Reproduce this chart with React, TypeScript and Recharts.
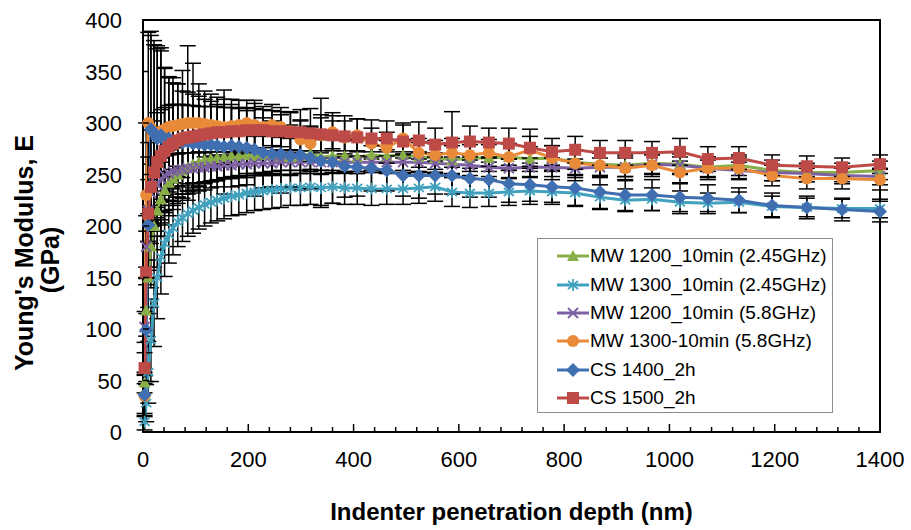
import React from 'react';
import {
  LineChart,
  Line,
  XAxis,
  YAxis,
  ErrorBar,
  Legend,
  ReferenceArea,
} from 'recharts';

// Indentation depth (nm), shared by all series
const depth = [3, 6, 10, 15, 21, 27, 34, 41, 49, 57, 66, 75, 85, 95, 106, 117, 129, 141, 154, 168,
  182, 197, 212, 228, 245, 262, 280, 299, 318, 338, 360, 383, 407, 434, 463, 494, 524, 555, 587, 621,
  657, 695, 735, 777, 821, 868, 916, 967, 1020, 1073, 1132, 1195, 1261, 1328, 1400];

// Young's modulus (GPa)
const mw1200_245 = [48, 118, 150, 180, 200, 215, 226, 235, 242, 246, 250, 254, 257, 260, 262, 264, 265, 266, 267, 268,
  268, 269, 268, 269, 269, 268, 267, 268, 270, 267, 268, 268, 267, 269, 268, 269, 267, 266, 264, 266,
  266, 267, 265, 266, 262, 260, 259, 261, 260, 257, 259, 254, 252, 252, 254];
const mw1300_245 = [10, 28, 58, 89, 125, 150, 170, 183, 192, 198, 204, 208, 212, 215, 218, 221, 223, 225, 227, 229,
  230, 232, 233, 234, 235, 236, 237, 237, 238, 237, 238, 237, 237, 236, 236, 236, 237, 238, 233, 232,
  232, 233, 234, 233, 232, 228, 225, 226, 223, 222, 223, 219, 218, 217, 217];
const mw1200_58 = [102, 180, 215, 232, 236, 240, 246, 249, 251, 253, 254, 255, 256, 256, 257, 257, 258, 258, 259, 259,
  260, 260, 261, 261, 261, 262, 262, 262, 262, 262, 262, 262, 262, 262, 262, 262, 262, 261, 260, 259,
  257, 256, 257, 257, 256, 257, 257, 260, 259, 256, 254, 252, 251, 249, 248];
const mw1300_58 = [35, 230, 300, 295, 291, 290, 292, 294, 296, 297, 298, 299, 300, 300, 300, 299, 298, 297, 296, 297,
  298, 300, 298, 296, 298, 296, 292, 284, 280, 288, 291, 286, 288, 280, 276, 285, 271, 269, 271, 269,
  271, 267, 274, 266, 261, 259, 256, 259, 252, 256, 256, 249, 246, 246, 245];
const cs1400 = [36, 99, 201, 294, 290, 285, 288, 283, 285, 282, 283, 281, 282, 280, 280, 279, 279, 278, 277, 278,
  277, 276, 274, 271, 270, 270, 268, 269, 266, 263, 262, 258, 257, 256, 254, 249, 249, 249, 249, 246,
  245, 241, 240, 238, 237, 233, 230, 230, 228, 227, 225, 220, 218, 216, 214];
const cs1500 = [62, 155, 212, 238, 252, 262, 268, 273, 277, 280, 283, 285, 286, 287, 288, 289, 290, 291, 291, 292,
  292, 293, 293, 293, 292, 292, 291, 291, 290, 289, 288, 287, 286, 285, 285, 282, 283, 279, 281, 282,
  281, 280, 276, 272, 274, 271, 271, 271, 272, 265, 266, 259, 258, 257, 260];

// standard deviations (GPa)
const mw1200_245Err = [10, 25, 35, 40, 40, 38, 36, 34, 32, 30, 28, 27, 26, 25, 24, 23, 22, 22, 21, 21,
  20, 20, 19, 19, 18, 18, 18, 17, 17, 17, 16, 16, 16, 15, 15, 15, 14, 14, 14, 13,
  13, 13, 12, 12, 12, 11, 11, 11, 10, 10, 10, 10, 9, 9, 9];
const mw1300_245Err = [8, 18, 30, 40, 42, 40, 36, 32, 28, 26, 24, 23, 22, 22, 21, 21, 20, 20, 20, 19,
  19, 19, 18, 18, 18, 18, 17, 17, 17, 17, 16, 16, 16, 16, 15, 15, 15, 14, 14, 14,
  13, 13, 13, 12, 12, 12, 11, 11, 11, 10, 10, 10, 9, 9, 9];
const mw1200_58Err = [15, 30, 30, 28, 25, 22, 20, 19, 18, 17, 16, 16, 15, 15, 15, 14, 14, 14, 13, 13,
  13, 13, 12, 12, 12, 12, 12, 11, 11, 11, 11, 11, 11, 10, 10, 10, 10, 10, 10, 10,
  9, 9, 9, 9, 9, 9, 9, 9, 8, 8, 8, 8, 8, 8, 8];
const mw1300_58Err = [20, 70, 88, 90, 85, 82, 78, 60, 48, 42, 40, 52, 75, 58, 38, 32, 30, 28, 36, 26,
  24, 22, 24, 20, 20, 19, 18, 18, 17, 17, 16, 16, 16, 15, 15, 15, 14, 14, 14, 13,
  13, 13, 13, 12, 12, 12, 12, 11, 11, 11, 11, 10, 10, 10, 10];
const cs1400Err = [20, 50, 80, 95, 90, 90, 85, 70, 60, 62, 55, 50, 48, 48, 46, 44, 42, 40, 46, 40,
  38, 36, 45, 34, 32, 38, 30, 34, 30, 45, 40, 30, 28, 22, 20, 20, 22, 18, 18, 18,
  17, 18, 16, 15, 18, 16, 15, 15, 14, 13, 12, 12, 11, 11, 10];
const cs1500Err = [15, 40, 55, 55, 50, 48, 45, 42, 40, 38, 35, 33, 31, 30, 28, 27, 26, 25, 24, 23,
  22, 22, 21, 20, 20, 19, 20, 22, 24, 35, 22, 20, 18, 18, 17, 16, 18, 16, 30, 15,
  14, 15, 18, 13, 13, 12, 12, 11, 13, 12, 11, 10, 10, 9, 9];

const xTicks = [0, 40, 80, 120, 160, 200, 240, 280, 320, 360, 400, 440, 480, 520, 560, 600, 640, 680,
  720, 760, 800, 840, 880, 920, 960, 1000, 1040, 1080, 1120, 1160, 1200, 1240, 1280, 1320, 1360, 1400];
const yTicks = [0, 50, 100, 150, 200, 250, 300, 350, 400];

const series = [
  { key: 'g', name: 'MW 1200_10min (2.45GHz)', color: '#88AE48', shape: 'triangle', vals: mw1200_245, err: mw1200_245Err },
  { key: 'c', name: 'MW 1300_10min (2.45GHz)', color: '#41A2BF', shape: 'star', vals: mw1300_245, err: mw1300_245Err },
  { key: 'p', name: 'MW 1200_10min (5.8GHz)', color: '#7D60A1', shape: 'x', vals: mw1200_58, err: mw1200_58Err },
  { key: 'o', name: 'MW 1300-10min (5.8GHz)', color: '#E98A39', shape: 'circle', vals: mw1300_58, err: mw1300_58Err },
  { key: 'b', name: 'CS 1400_2h', color: '#3F6FB1', shape: 'diamond', vals: cs1400, err: cs1400Err },
  { key: 'r', name: 'CS 1500_2h', color: '#BD4A47', shape: 'square', vals: cs1500, err: cs1500Err },
];

const data = depth.map((d, i) => {
  const row: any = { depth: d };
  series.forEach((s) => {
    row[s.key] = s.vals[i];
    row[s.key + 'Err'] = s.err[i];
  });
  return row;
});

const FONT = 'Arial, "Liberation Sans", sans-serif';

function Marker({ shape, color, cx, cy }: any) {
  switch (shape) {
    case 'triangle':
      return <polygon points={`${cx},${cy - 6} ${cx - 6},${cy + 5} ${cx + 6},${cy + 5}`} fill={color} />;
    case 'star':
      return (
        <g stroke={color} strokeWidth={1.8}>
          <line x1={cx} y1={cy - 6} x2={cx} y2={cy + 6} />
          <line x1={cx - 5} y1={cy - 4} x2={cx + 5} y2={cy + 4} />
          <line x1={cx - 5} y1={cy + 4} x2={cx + 5} y2={cy - 4} />
        </g>
      );
    case 'x':
      return (
        <g stroke={color} strokeWidth={2}>
          <line x1={cx - 5} y1={cy - 5} x2={cx + 5} y2={cy + 5} />
          <line x1={cx - 5} y1={cy + 5} x2={cx + 5} y2={cy - 5} />
        </g>
      );
    case 'circle':
      return <circle cx={cx} cy={cy} r={6} fill={color} />;
    case 'diamond':
      return <polygon points={`${cx},${cy - 7} ${cx + 7},${cy} ${cx},${cy + 7} ${cx - 7},${cy}`} fill={color} />;
    default:
      return <rect x={cx - 6} y={cy - 6} width={12} height={12} fill={color} />;
  }
}

const makeDot = (shape: string, color: string) => (props: any) => {
  const { cx, cy, index } = props;
  if (cx == null || cy == null) return <g key={`${shape}-${index}`} />;
  return (
    <g key={`${shape}-${index}`}>
      <Marker shape={shape} color={color} cx={cx} cy={cy} />
    </g>
  );
};

const XTick = ({ x, y, payload }: any) => {
  const major = payload.value % 200 === 0;
  return (
    <g>
      <line x1={x} y1={y} x2={x} y2={y - (major ? 8 : 5)} stroke="#000" strokeWidth={1.5} />
      {major && (
        <text x={x} y={y + 35} textAnchor="middle" fontSize={22} fontFamily={FONT} fill="#000">
          {payload.value}
        </text>
      )}
    </g>
  );
};

const YTick = ({ x, y, payload }: any) => (
  <g>
    <line x1={x} y1={y} x2={x + 6} y2={y} stroke="#000" strokeWidth={1.5} />
    <text x={x - 21} y={y + 8} textAnchor="end" fontSize={22} fontFamily={FONT} fill="#000">
      {payload.value}
    </text>
  </g>
);

const LegendBox = () => (
  <div
    style={{
      border: '1px solid #8c8c8c',
      background: '#fff',
      width: 296,
      height: 175,
      boxSizing: 'border-box',
      paddingTop: 3,
      fontFamily: FONT,
      fontSize: 19,
      color: '#000',
    }}
  >
    {series.map((s) => (
      <div key={s.key} style={{ display: 'flex', alignItems: 'center', height: 28.4, paddingLeft: 19 }}>
        <svg width={32} height={16} style={{ marginRight: 1 }}>
          <line x1={0} y1={8} x2={32} y2={8} stroke={s.color} strokeWidth={3} />
          <Marker shape={s.shape} color={s.color} cx={16} cy={8} />
        </svg>
        <span style={{ whiteSpace: 'nowrap' }}>{s.name}</span>
      </div>
    ))}
  </div>
);

export default function App() {
  return (
    <div style={{ position: 'absolute', left: 0, top: 0, background: '#fff' }}>
      <LineChart width={911} height={530} data={data} margin={{ top: 20, right: 31, bottom: 8, left: 0 }}>
        <ReferenceArea x1={0} x2={1400} y1={0} y2={400} fill="none" stroke="#000" strokeWidth={2} />
        <XAxis
          dataKey="depth"
          type="number"
          domain={[0, 1400]}
          ticks={xTicks}
          interval={0}
          tick={<XTick />}
          tickLine={false}
          tickSize={0}
          tickMargin={0}
          axisLine={{ stroke: '#000', strokeWidth: 2 }}
          height={90}
          label={{
            value: 'Indenter penetration depth (nm)',
            position: 'insideBottom',
            offset: 2,
            style: { fontFamily: FONT, fontSize: 24, fontWeight: 'bold', fill: '#000' },
          }}
        />
        <YAxis
          type="number"
          domain={[0, 400]}
          ticks={yTicks}
          interval={0}
          tick={<YTick />}
          tickLine={false}
          tickSize={0}
          tickMargin={0}
          axisLine={{ stroke: '#000', strokeWidth: 2 }}
          width={143}
          label={{
            content: () => (
              <g fontFamily={FONT} fontSize={25} fontWeight="bold" fill="#000">
                <text transform="translate(33,253) rotate(-90)" textAnchor="middle">
                  Young's Modulus, E
                </text>
                <text transform="translate(59,260) rotate(-90)" textAnchor="middle">
                  (GPa)
                </text>
              </g>
            ),
          }}
        />
        {series.map((s) => (
          <Line
            key={s.key}
            type="linear"
            dataKey={s.key}
            name={s.name}
            stroke={s.color}
            strokeWidth={3}
            dot={makeDot(s.shape, s.color)}
            activeDot={false}
            isAnimationActive={false}
          >
            <ErrorBar dataKey={s.key + 'Err'} width={8} stroke="#000" strokeWidth={1.5} direction="y" isAnimationActive={false} />
          </Line>
        ))}
        <Legend
          layout="vertical"
          align="center"
          verticalAlign="middle"
          content={() => <LegendBox />}
          wrapperStyle={{ left: 537, top: 238, width: 296, height: 175 }}
        />
      </LineChart>
    </div>
  );
}
